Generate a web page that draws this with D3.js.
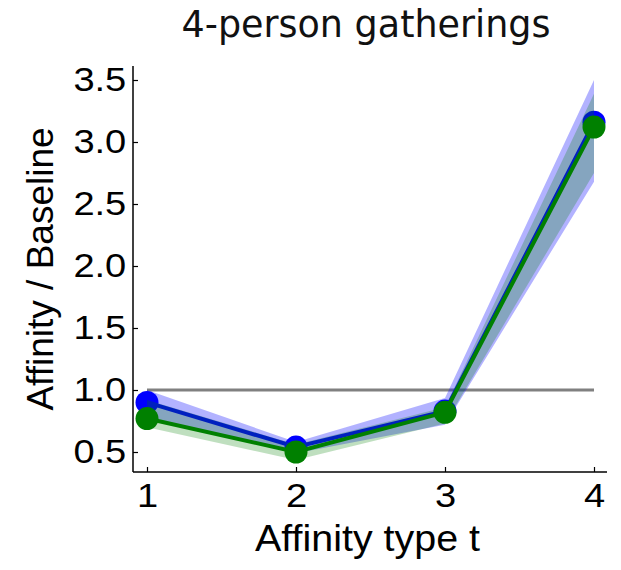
<!DOCTYPE html>
<html>
<head>
<meta charset="utf-8">
<script src="https://cdn.jsdelivr.net/npm/d3@7"></script>
<style>
  body { margin: 0; background: #fff; }
  svg { display: block; }
</style>
</head>
<body>
<div id="chart"></div>
<script>
// data
const types = [1, 2, 3, 4];
const blueMean = [0.9, 0.54, 0.83, 3.16];
const blueLow = [0.77, 0.49, 0.72, 2.68];
const blueHigh = [1.0, 0.58, 0.935, 3.5];
const greenMean = [0.77, 0.5, 0.82, 3.12];
const greenLow = [0.7, 0.435, 0.73, 2.75];
const greenHigh = [0.92, 0.56, 0.86, 3.39];
const yTicks = [0.5, 1.0, 1.5, 2.0, 2.5, 3.0, 3.5];
const baseline = 1.0;

const W = 621, H = 570;
const svg = d3.select("#chart").append("svg").attr("width", W).attr("height", H);

const x = d3.scaleLinear().domain([1, 4]).range([147, 594]);
const y = d3.scaleLinear().domain([0.5, 3.5]).range([452, 80]);
const axL = 133, axB = 472, axR = 607, axT = 66;
const tickFont = "'Liberation Sans', Arial, sans-serif";

// axes (inward ticks)
const yAxis = d3.axisLeft(y).tickValues(yTicks).tickFormat(d3.format(".1f"))
  .tickSize(-5).tickPadding(6);
const gy = svg.append("g").attr("transform", "translate(" + axL + ",0)").call(yAxis);
gy.select(".domain").remove();
gy.append("line").attr("x1", 0).attr("x2", 0).attr("y1", axT).attr("y2", axB)
  .attr("stroke", "#000").attr("stroke-width", 1.5);

const xAxis = d3.axisBottom(x).tickValues(types).tickFormat(d3.format("d"))
  .tickSize(-5).tickPadding(11);
const gx = svg.append("g").attr("transform", "translate(0," + axB + ")").call(xAxis);
gx.select(".domain").remove();
gx.append("line").attr("x1", axL).attr("x2", axR).attr("y1", 0).attr("y2", 0)
  .attr("stroke", "#000").attr("stroke-width", 1.5);

svg.selectAll(".tick line").attr("stroke", "#000").attr("stroke-width", 1.2);
svg.selectAll(".tick text").attr("fill", "#000")
  .style("font-family", tickFont).style("font-size", "34px")
  .attr("transform", "scale(1.12,1)");
gx.selectAll(".tick text").attr("dy", "0.71em");
gy.selectAll(".tick text").attr("dy", "0.3em");

function series(mean, low, high, col, bandOpacity) {
  const pts = types.map((t, i) => ({ t: t, m: mean[i], lo: low[i], hi: high[i] }));
  svg.append("path").datum(pts)
    .attr("d", d3.area().x(d => x(d.t)).y0(d => y(d.lo)).y1(d => y(d.hi)))
    .attr("fill", col).attr("fill-opacity", bandOpacity).attr("stroke", "none");
  svg.append("path").datum(pts)
    .attr("d", d3.line().x(d => x(d.t)).y(d => y(d.m)))
    .attr("fill", "none").attr("stroke", col).attr("stroke-width", 4);
  svg.selectAll(null).data(pts).enter().append("circle")
    .attr("cx", d => x(d.t)).attr("cy", d => y(d.m)).attr("r", 11.5)
    .attr("fill", col);
}

// baseline
svg.append("line")
  .attr("x1", x(types[0])).attr("x2", x(types[types.length - 1]))
  .attr("y1", y(baseline)).attr("y2", y(baseline))
  .attr("stroke", "#808080").attr("stroke-width", 3);

series(blueMean, blueLow, blueHigh, "#0000ff", 0.3);
series(greenMean, greenLow, greenHigh, "#008000", 0.25);

// title and labels
svg.append("text").attr("x", 366).attr("y", 37).attr("text-anchor", "middle")
  .style("font-family", "'DejaVu Sans', sans-serif").style("font-size", "36.5px")
  .attr("fill", "#111").text("4-person gatherings");

svg.append("text").attr("x", 367.5).attr("y", 551).attr("text-anchor", "middle")
  .style("font-family", tickFont).style("font-size", "37px")
  .attr("textLength", 225).attr("lengthAdjust", "spacingAndGlyphs")
  .text("Affinity type t");

svg.append("text").attr("transform", "translate(53,269) rotate(-90)")
  .attr("text-anchor", "middle")
  .style("font-family", tickFont).style("font-size", "37px")
  .text("Affinity / Baseline");
</script>
</body>
</html>
